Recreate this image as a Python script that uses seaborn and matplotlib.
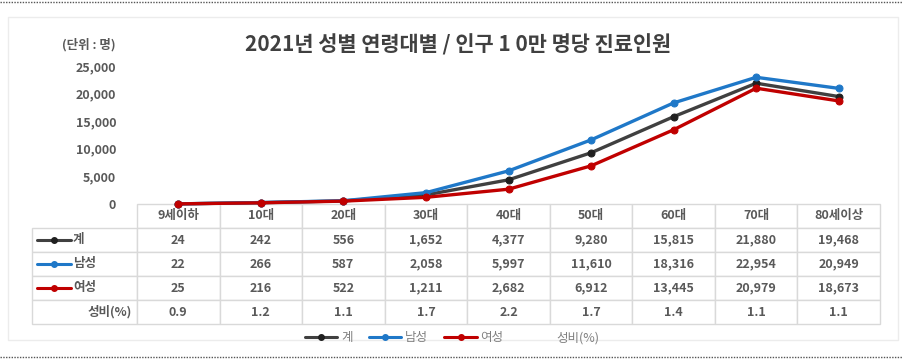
import pandas as pd
import matplotlib.pyplot as plt
import seaborn as sns
from matplotlib.lines import Line2D
from matplotlib.patches import Rectangle
from matplotlib.ticker import FuncFormatter

# data
age_groups = ['9세이하', '10대', '20대', '30대', '40대', '50대', '60대', '70대', '80세이상']
total = [24, 242, 556, 1652, 4377, 9280, 15815, 21880, 19468]
male = [22, 266, 587, 2058, 5997, 11610, 18316, 22954, 20949]
female = [25, 216, 522, 1211, 2682, 6912, 13445, 20979, 18673]
sex_ratio = ['0.9', '1.2', '1.1', '1.7', '2.2', '1.7', '1.4', '1.1', '1.1']

series_names = ['계', '남성', '여성']
series_values = [total, male, female]
colors = {'계': '#404040', '남성': '#1f78c8', '여성': '#c00000'}
marker_colors = {'계': '#202020', '남성': '#1f78c8', '여성': '#c00000'}

sns.set_style('white')
plt.rcParams['font.family'] = ['Noto Sans CJK KR', 'DejaVu Sans']

W, H = 904, 360
fig = plt.figure(figsize=(W / 100, H / 100), dpi=100)
ax = fig.add_axes([137 / W, 1 - 204 / H, 743 / W, 138 / H])

rows = []
for name, vals in zip(series_names, series_values):
    for i, v in enumerate(vals):
        rows.append({'pos': i, 'value': v, 'series': name})
df = pd.DataFrame(rows)

for name in series_names:
    sub = df[df['series'] == name]
    sns.lineplot(data=sub, x='pos', y='value', ax=ax, color=colors[name],
                 linewidth=2.4, marker='o', markersize=5,
                 markerfacecolor=marker_colors[name], markeredgecolor=marker_colors[name],
                 label=name, legend=False, clip_on=False, zorder=3)

ax.set_xlim(-0.5, len(age_groups) - 0.5)
ax.set_ylim(0, 25000)
ax.set_yticks(range(0, 25001, 5000))
ax.yaxis.set_major_formatter(FuncFormatter(lambda v, p: f'{int(v):,}'))
ax.set_xticks([])
ax.set_xlabel('')
ax.set_ylabel('')
ax.tick_params(axis='y', length=0, pad=15, labelsize=9, labelcolor='#595959')
for lbl in ax.get_yticklabels():
    lbl.set_fontweight('bold')
for s in ax.spines.values():
    s.set_visible(False)
ax.patch.set_alpha(0)

# data table under the chart
cell_text = [[''] + age_groups]
for name, vals in zip(series_names, series_values):
    cell_text.append([name] + [f'{v:,}' for v in vals])
cell_text.append(['성비(%)'] + sex_ratio)

tbl = ax.table(cellText=cell_text, cellLoc='center',
               bbox=[-105 / 743, -120 / 138, 848 / 743, 120 / 138])
tbl.auto_set_font_size(False)
for (r, c), cell in tbl.get_celld().items():
    cell.set_edgecolor('#d9d9d9')
    cell.set_linewidth(1)
    cell.set_width(105 if c == 0 else 82.6)
    cell.get_text().set_fontsize(9)
    cell.get_text().set_color('#595959')
    cell.get_text().set_fontweight('bold')
    if r == 0 and c == 0:
        cell.visible_edges = ''
    if c == 0 and 1 <= r <= 3:
        cell._loc = 'left'
        cell.PAD = 0.39
        cell.get_text().set_ha('left')
    if c == 0 and r == 4:
        cell._loc = 'right'
        cell.PAD = 0.05
        cell.get_text().set_ha('right')

# legend keys inside the row-label cells
for k, name in enumerate(series_names):
    yk = 1 - (240 + 24 * k) / H
    fig.add_artist(Line2D([37 / W, 54 / W, 71 / W], [yk, yk, yk], transform=fig.transFigure,
                          color=colors[name], lw=2.2, marker='o', markersize=4, markevery=[1],
                          markerfacecolor=marker_colors[name], markeredgecolor=marker_colors[name]))

# bottom legend
handles = [Line2D([], [], color=colors[n], lw=2.2, marker='o', markersize=4,
                  markerfacecolor=marker_colors[n], markeredgecolor=marker_colors[n])
           for n in series_names]
handles.append(Line2D([], [], color='none'))
leg = fig.legend(handles, series_names + ['성비(%)'], loc='center', ncol=4,
                 bbox_to_anchor=(0.5, 1 - 338 / H), frameon=False, fontsize=9,
                 handlelength=2.6, handletextpad=0.3, columnspacing=1.3)
for t in leg.get_texts():
    t.set_color('#808080')

# titles
fig.text(0.507, 1 - 45 / H, '2021년 성별 연령대별 / 인구 1 0만 명당 진료인원',
         ha='center', va='center', fontsize=15, fontweight='bold', color='#404040')
fig.text(62 / W, 1 - 45 / H, '(단위 : 명)', ha='left', va='center',
         fontsize=9, fontweight='bold', color='#595959')

# frame and dotted separators
fig.add_artist(Rectangle((8 / W, 1 - 340 / H), 890 / W, 323 / H, transform=fig.transFigure,
                         fill=False, edgecolor='#ececec', lw=1))
for yy in (2, 357):
    fig.add_artist(Line2D([0, 1], [1 - yy / H, 1 - yy / H], transform=fig.transFigure,
                          color='#555555', lw=1, linestyle=(0, (1, 1))))

fig.savefig('out.png', dpi=100)
